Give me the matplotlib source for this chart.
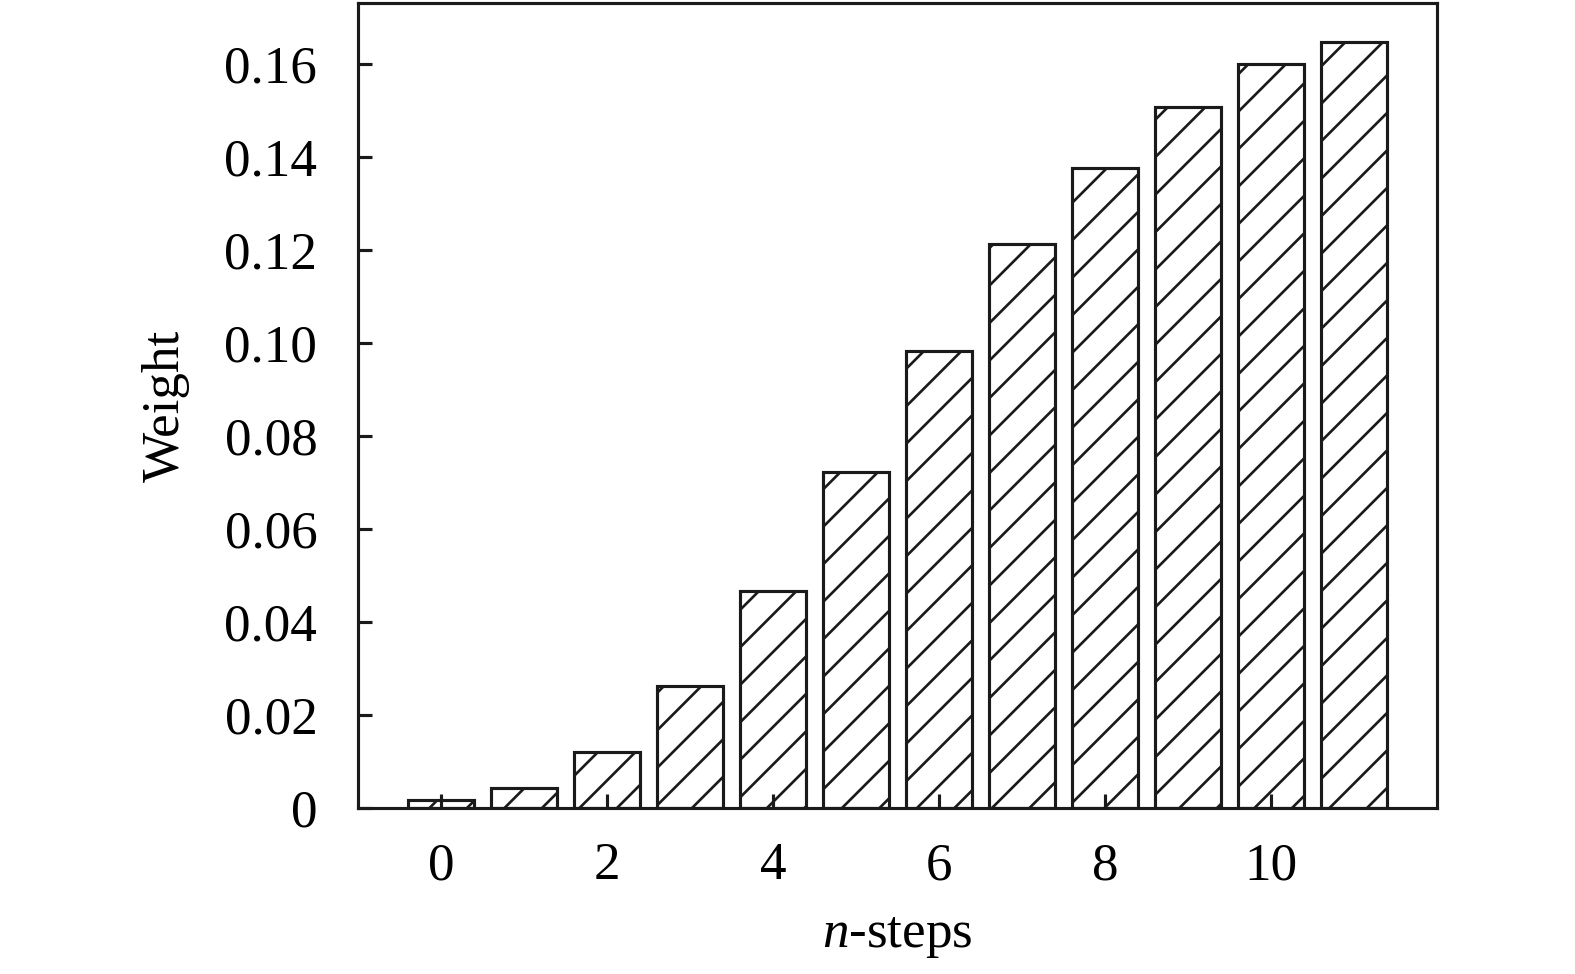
import matplotlib
matplotlib.use('Agg')
import matplotlib.pyplot as plt

# n-step weights
steps = [0, 1, 2, 3, 4, 5, 6, 7, 8, 9, 10, 11]
weights = [0.0017, 0.0044, 0.0120, 0.0262, 0.0467, 0.0722, 0.0982, 0.1213, 0.1376, 0.1508, 0.1600, 0.1647]
xtick_vals = [0, 2, 4, 6, 8, 10]
ytick_vals = [0, 0.02, 0.04, 0.06, 0.08, 0.10, 0.12, 0.14, 0.16]
ytick_labels = ['0', '0.02', '0.04', '0.06', '0.08', '0.10', '0.12', '0.14', '0.16']

plt.rcParams['font.family'] = 'Liberation Serif'
plt.rcParams['mathtext.fontset'] = 'custom'
plt.rcParams['mathtext.it'] = 'Liberation Serif:italic'
plt.rcParams['mathtext.rm'] = 'Liberation Serif'
plt.rcParams['hatch.linewidth'] = 0.85
plt.rcParams['hatch.color'] = '#1a1a1a'

dpi = 225
fig = plt.figure(figsize=(1575 / dpi, 974 / dpi), dpi=dpi)
ax = fig.add_axes([0.2273, 0.1704, 0.6851, 0.8265])

ax.bar(steps, weights, width=0.8, color='white', edgecolor='#1a1a1a',
       linewidth=1.0, hatch='//', zorder=1)

ax.set_xlim(-1, 12)
ax.set_ylim(0, 0.1731)
ax.set_xticks(xtick_vals)
ax.set_yticks(ytick_vals)
ax.set_yticklabels(ytick_labels)
ax.tick_params(direction='in', length=4.5, width=1.0, labelsize=17, color='#1a1a1a')
ax.tick_params(axis='y', pad=13)
ax.tick_params(axis='x', pad=11)
for s in ax.spines.values():
    s.set_linewidth(1.0)
    s.set_color('#1a1a1a')
    s.set_zorder(3)

ax.set_xlabel(r'$n$-steps', fontsize=17, labelpad=7)
ax.set_ylabel('Weight', fontsize=17, labelpad=11)

fig.savefig('out.png', dpi=dpi)
